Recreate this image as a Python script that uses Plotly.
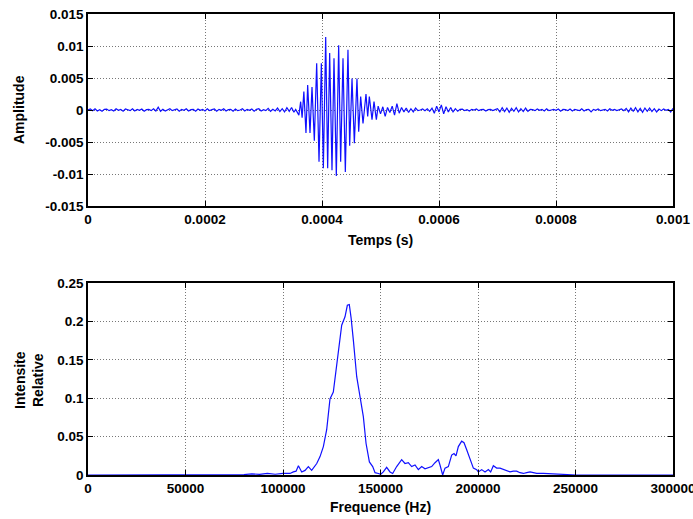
import numpy as np
import plotly.graph_objects as go

# ---------------- Data: time signal (values in units of 1e-3) ----------------
SAMPLE_STEP_US = 4.0
BEFORE_START_US = 0.0
AFTER_START_US = 496.0

noise_before = [
    0.0, 0.15, -0.1, 0.2, -0.15, 0.05, -0.2, 0.1, 0.15, -0.1,
    0.05, -0.15, 0.2, -0.05, 0.1, -0.2, 0.15, 0.0, -0.1, 0.2,
    -0.15, 0.1, -0.05, 0.15, -0.2, 0.05, 0.1, -0.1, 0.2, -0.15,
    0.45, -0.2, 0.1, -0.15, 0.05, 0.2, -0.1, 0.0, 0.15, -0.2,
    0.1, -0.05, 0.2, -0.15, 0.05, 0.1, -0.2, 0.15, -0.05, 0.1,
    -0.15, 0.2, -0.1, 0.05, 0.15, -0.2, 0.1, -0.05, 0.2, -0.15,
    0.05, 0.1, -0.2, 0.15, -0.1, 0.0, 0.2, -0.15, 0.1, -0.05,
    0.15, -0.2, 0.1, 0.2, -0.15, 0.05, -0.1, 0.25, -0.2, 0.1,
    -0.15, 0.3, -0.25, 0.2, -0.3, 0.35, -0.2, 0.4, -0.35,
]

burst_t_us = [
    355, 357.5, 360.5, 363.5, 366, 369, 372.6, 375.5, 379.5, 382.9,
    386.9, 390.9, 394.9, 398.9, 402.3, 406.3, 409.7, 413.1, 417.1, 420.5,
    424.5, 428.5, 431.9, 435.9, 439.9, 444.4, 447.3, 451.3, 455.3, 459.8,
    462.7, 466.1, 470.1, 475.2, 478.1, 480.9, 485.5, 488.9, 492.9,
]
burst_amp = [
    0.1, -0.3, -0.8, 1.3, -1.2, 2.9, -3.6, 3.9, -3.6, 3.6,
    -4.8, 7.3, -8.1, 7.3, -9.1, 11.4, -9.1, 8.9, -9.4, 8.1,
    -10.3, 10.1, -8.1, 8.1, -9.7, 9.4, -5.6, 4.9, -5.2, 4.9,
    -3.4, 2.1, -2.1, 2.5, -1.0, 2.1, -1.5, 1.3, -1.5,
]

noise_after = [
    0.6, -0.6, 0.5, -1.0, 0.4, -0.4, 0.6, -0.8, 1.0, -0.5, 0.4, -0.3, 0.3, -0.4, 0.2, -0.3, 0.3,
    -0.1, 0.0, 0.15, -0.1, 0.2, -0.2, 0.3,
    -0.5, 0.6, -0.3, 0.8, -0.6, 0.5, -0.3, 0.4, -0.3,
    0.2, -0.2, 0.1, 0.15, -0.1, 0.05, -0.15, 0.1, 0.0, 0.15, -0.1, 0.05, 0.1, -0.15, 0.05, 0.1, -0.1, 0.05,
    0.2, -0.3, 0.35, -0.25, 0.3, -0.35, 0.25, -0.2, 0.35, -0.3, 0.2, -0.25, 0.3, -0.2, 0.1,
    0.05, -0.1, 0.15, -0.05, 0.1, -0.15, 0.2, -0.1, 0.0, 0.1, -0.05, 0.15, -0.2, 0.1, 0.05, -0.1,
    0.15, -0.15, 0.1, 0.0, -0.1, 0.2, -0.15, 0.05, 0.1, -0.3, 0.1, -0.05, 0.15, -0.1, 0.05, 0.1,
    -0.15, 0.2, -0.05, 0.1, -0.1, 0.05, 0.15, -0.1,
    0.25, -0.3, 0.3, -0.2, 0.35, -0.3, 0.25, -0.35, 0.3, -0.2, 0.3, -0.25, 0.2, -0.3, 0.15,
    -0.1, 0.15, -0.05, 0.1, -0.3, 0.25,
]

# ---------------- Data: spectrum ----------------
freq_hz = [
    0, 20000, 40000, 60000, 75000, 78000, 80000, 84000, 88000, 92000, 96000,
    100000, 103600, 105300, 106700, 107900, 109600, 111300, 113000, 114700, 117300,
    119000, 120700, 122400, 123300, 124100, 125800, 127500, 128700, 130100, 131800,
    133000, 134000, 134900, 136100, 137800, 139500, 141200, 142600, 144300, 146000,
    147200, 148900, 150100, 151450, 153160, 154870, 156240, 158290, 160850, 162560,
    164270, 165980, 167690, 169400, 171110, 172820, 174530, 176240, 177950, 179660,
    180510, 181880, 183080, 184790, 186500, 187700, 188720, 189920, 191630, 192830,
    194200, 195910, 197620, 199330, 200180, 201890, 203600, 205310, 206500, 207870,
    209580, 211290, 213000, 214710, 216420, 218130, 219840, 221550, 223260, 224970,
    226680, 228390, 230100, 233520, 238650, 245480, 250610, 300000,
]
intensity = [
    0, 0.0002, 0.0001, 0.0003, 0.0003, 0.0012, 0.0005, 0.0015, 0.0008, 0.0022, 0.001,
    0.002, 0.002, 0.004, 0.005, 0.012, 0.004, 0.006, 0.011, 0.006, 0.015,
    0.024, 0.037, 0.059, 0.08, 0.099, 0.108, 0.145, 0.171, 0.195, 0.206,
    0.221, 0.222, 0.205, 0.175, 0.128, 0.102, 0.076, 0.041, 0.017, 0.011,
    0.003, 0.002, 0.001, 0.004, 0.010, 0.004, 0.002, 0.011, 0.020, 0.015,
    0.016, 0.011, 0.013, 0.007, 0.011, 0.008, 0.009, 0.011, 0.016, 0.020,
    0.013, 0.000, 0.009, 0.011, 0.026, 0.028, 0.025, 0.037, 0.044, 0.042,
    0.033, 0.020, 0.009, 0.007, 0.004, 0.007, 0.004, 0.007, 0.004, 0.012,
    0.009, 0.009, 0.007, 0.006, 0.004, 0.005, 0.005, 0.003, 0.002, 0.003,
    0.004, 0.003, 0.002, 0.002, 0.0013, 0.0004, 0.0, 0.0,
]

# ---------------- Tick labels ----------------
top_xticks = [0, 0.0002, 0.0004, 0.0006, 0.0008, 0.001]
top_xlabels = ["0", "0.0002", "0.0004", "0.0006", "0.0008", "0.001"]
top_yticks = [-0.015, -0.01, -0.005, 0, 0.005, 0.01, 0.015]
top_ylabels = ["-0.015", "-0.01", "-0.005", "0", "0.005", "0.01", "0.015"]
bot_xticks = [0, 50000, 100000, 150000, 200000, 250000, 300000]
bot_xlabels = ["0", "50000", "100000", "150000", "200000", "250000", "300000"]
bot_yticks = [0, 0.05, 0.1, 0.15, 0.2, 0.25]
bot_ylabels = ["0", "0.05", "0.1", "0.15", "0.2", "0.25"]

# ---------------- Build signal ----------------
t_before = BEFORE_START_US + SAMPLE_STEP_US * np.arange(len(noise_before))
t_after = AFTER_START_US + SAMPLE_STEP_US * np.arange(len(noise_after))
t_all = np.concatenate([t_before, np.array(burst_t_us), t_after]) * 1e-6
a_all = np.concatenate([np.array(noise_before), np.array(burst_amp), np.array(noise_after)]) * 1e-3

W, H = 693, 519
FONT = "Liberation Sans"
BLUE = "#1010ff"


def px(xp):
    return xp / W


def py(yp):
    return 1 - yp / H


fig = go.Figure()
fig.add_trace(go.Scatter(x=t_all, y=a_all, mode="lines",
                         line=dict(color=BLUE, width=1.2), xaxis="x", yaxis="y",
                         showlegend=False))
fig.add_trace(go.Scatter(x=freq_hz, y=intensity, mode="lines",
                         line=dict(color=BLUE, width=1.2), xaxis="x2", yaxis="y2",
                         showlegend=False))

x0, x1 = px(88), px(673)
top_dom = [py(206), py(14)]
bot_dom = [py(475), py(283)]

tickfont = dict(family=FONT, size=13.5, color="black", weight="bold")
common = dict(showline=True, linecolor="black", linewidth=1.5, mirror="ticks",
              ticks="inside", ticklen=5, tickcolor="black", tickwidth=1,
              showgrid=True, gridcolor="#777777", griddash="1px,2px", gridwidth=1,
              zeroline=False, tickfont=tickfont, tickmode="array", automargin=False,
              ticklabeloverflow="allow")

fig.update_layout(
    width=W, height=H,
    margin=dict(l=0, r=0, t=0, b=0, autoexpand=False),
    paper_bgcolor="white", plot_bgcolor="white",
    showlegend=False,
    xaxis=dict(domain=[x0, x1], anchor="y", range=[0, 0.001],
               tickvals=top_xticks, ticktext=top_xlabels, **common),
    yaxis=dict(domain=top_dom, anchor="x", range=[-0.015, 0.015],
               tickvals=top_yticks, ticktext=top_ylabels, **common),
    xaxis2=dict(domain=[x0, x1], anchor="y2", range=[0, 300000],
                tickvals=bot_xticks, ticktext=bot_xlabels, **common),
    yaxis2=dict(domain=bot_dom, anchor="x2", range=[0, 0.25],
                tickvals=bot_yticks, ticktext=bot_ylabels, **common),
)

title_font = dict(family=FONT, size=14, color="black", weight="bold")
fig.add_annotation(text="Temps (s)", x=(x0 + x1) / 2, y=py(240), xref="paper", yref="paper",
                   showarrow=False, font=title_font, xanchor="center", yanchor="middle")
fig.add_annotation(text="Frequence (Hz)", x=(x0 + x1) / 2, y=py(507), xref="paper", yref="paper",
                   showarrow=False, font=title_font, xanchor="center", yanchor="middle")
fig.add_annotation(text="Amplitude", x=px(19), y=py(110), xref="paper", yref="paper",
                   showarrow=False, font=title_font, textangle=-90, xanchor="center", yanchor="middle")
fig.add_annotation(text="Intensite<br>Relative", x=px(29), y=py(380), xref="paper", yref="paper",
                   showarrow=False, font=title_font, textangle=-90, xanchor="center", yanchor="middle")

# remove the browser's default page margin so the figure fills the window exactly
fig.write_html("out.html",
               config={"displayModeBar": False},
               post_script="document.body.style.margin='0';document.body.style.overflow='hidden';")
